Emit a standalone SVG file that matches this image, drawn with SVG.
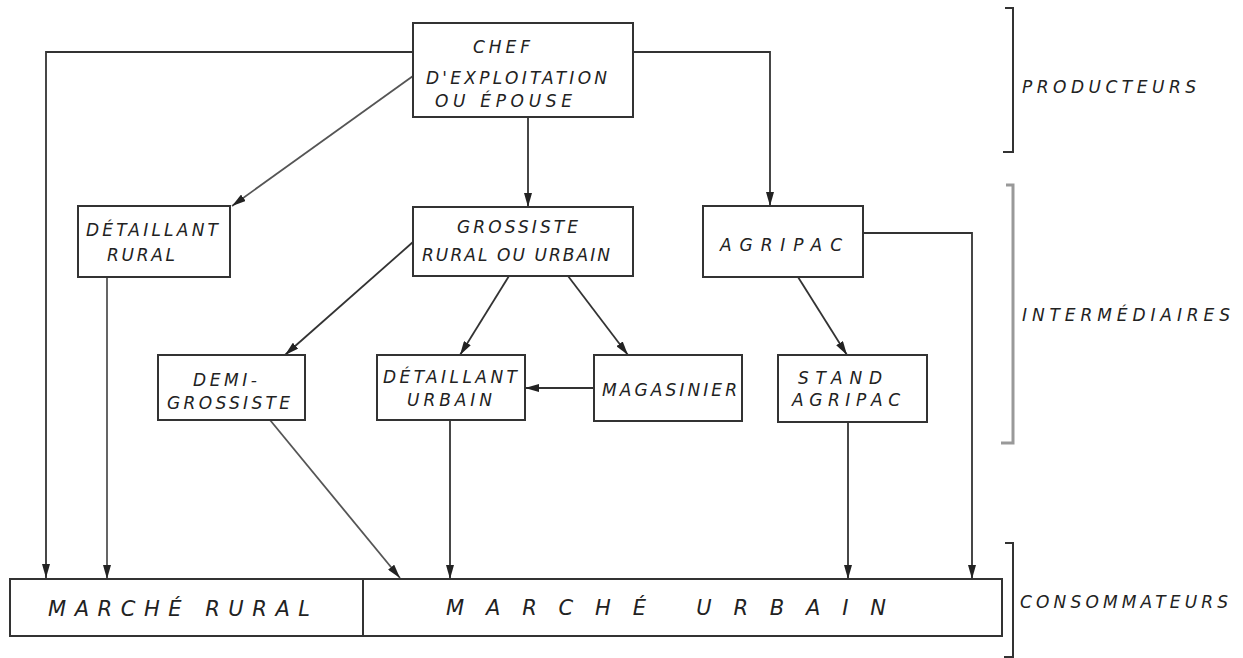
<svg xmlns="http://www.w3.org/2000/svg" width="1243" height="658" viewBox="0 0 1243 658">
<defs>
<marker id="ah" markerWidth="14" markerHeight="8" refX="14" refY="4" orient="auto" markerUnits="userSpaceOnUse"><path d="M0,0 L14,4 L0,8 z" fill="#222"/></marker>
<style>
.box{fill:#fff;stroke:#333;stroke-width:2}
.t{font-family:"DejaVu Sans","Liberation Sans",Arial,sans-serif;font-style:oblique;font-size:17px;fill:#222}
.big{font-size:21px}
.side{font-size:17px}
.c{fill:none;stroke:#333;stroke-width:1.8}
.cg{fill:none;stroke:#555;stroke-width:1.8}
.br{fill:none;stroke:#333;stroke-width:2}
.brg{fill:none;stroke:#999;stroke-width:3}
</style>
</defs>
<rect width="1243" height="658" fill="#fff"/>

<g id="connectors">
<path class="c" d="M413,52 H46 V578" marker-end="url(#ah)"/>
<path class="c" d="M633,52 H770 V206" marker-end="url(#ah)"/>
<path class="c" d="M528,117 V207" marker-end="url(#ah)"/>
<path class="cg" d="M413,76 L232,206" marker-end="url(#ah)"/>
<path class="c" d="M413,242 L285,355" marker-end="url(#ah)"/>
<path class="c" d="M509,276 L460,355" marker-end="url(#ah)"/>
<path class="c" d="M568,276 L628,355" marker-end="url(#ah)"/>
<path class="c" d="M594,388 H525" marker-end="url(#ah)"/>
<path class="c" d="M798,277 L847,355" marker-end="url(#ah)"/>
<path class="c" d="M863,233 H972 V579" marker-end="url(#ah)"/>
<path class="cg" d="M107,277 V579" marker-end="url(#ah)"/>
<path class="cg" d="M270,420 L400,578" marker-end="url(#ah)"/>
<path class="c" d="M450,420 V579" marker-end="url(#ah)"/>
<path class="c" d="M848,422 V579" marker-end="url(#ah)"/>
</g>

<g id="chef">
<rect class="box" x="413" y="23" width="220" height="94"/>
<text class="t" x="473" y="53" textLength="57" lengthAdjust="spacing">CHEF</text>
<text class="t" x="426" y="84" textLength="181" lengthAdjust="spacing">D'EXPLOITATION</text>
<text class="t" x="435" y="107" textLength="137" lengthAdjust="spacing">OU ÉPOUSE</text>
</g>

<g id="detaillant-rural">
<rect class="box" x="78" y="206" width="152" height="71"/>
<text class="t" x="86" y="236" textLength="132" lengthAdjust="spacing">DÉTAILLANT</text>
<text class="t" x="107" y="261" textLength="68" lengthAdjust="spacing">RURAL</text>
</g>

<g id="grossiste">
<rect class="box" x="413" y="207" width="220" height="69"/>
<text class="t" x="457" y="233" textLength="121" lengthAdjust="spacing">GROSSISTE</text>
<text class="t" x="422" y="261" textLength="188" lengthAdjust="spacing">RURAL OU URBAIN</text>
</g>

<g id="agripac">
<rect class="box" x="703" y="206" width="160" height="71"/>
<text class="t" x="720" y="251" textLength="122" lengthAdjust="spacing">AGRIPAC</text>
</g>

<g id="demi-grossiste">
<rect class="box" x="158" y="355" width="147" height="65"/>
<text class="t" x="193" y="386" textLength="64" lengthAdjust="spacing">DEMI-</text>
<text class="t" x="167" y="409" textLength="123" lengthAdjust="spacing">GROSSISTE</text>
</g>

<g id="detaillant-urbain">
<rect class="box" x="377" y="355" width="148" height="65"/>
<text class="t" x="383" y="383" textLength="134" lengthAdjust="spacing">DÉTAILLANT</text>
<text class="t" x="407" y="406" textLength="85" lengthAdjust="spacing">URBAIN</text>
</g>

<g id="magasinier">
<rect class="box" x="594" y="355" width="148" height="66"/>
<text class="t" x="602" y="396" textLength="135" lengthAdjust="spacing">MAGASINIER</text>
</g>

<g id="stand-agripac">
<rect class="box" x="778" y="355" width="149" height="67"/>
<text class="t" x="798" y="384" textLength="84" lengthAdjust="spacing">STAND</text>
<text class="t" x="792" y="406" textLength="108" lengthAdjust="spacing">AGRIPAC</text>
</g>

<g id="marche-rural">
<rect class="box" x="10" y="579" width="353" height="57"/>
<text class="t big" x="48" y="616" textLength="262" lengthAdjust="spacing">MARCHÉ RURAL</text>
</g>

<g id="marche-urbain">
<rect class="box" x="363" y="579" width="639" height="57"/>
<text class="t big" x="446" y="615" textLength="440" lengthAdjust="spacing">MARCHÉ URBAIN</text>
</g>

<g id="producteurs">
<path class="br" d="M1005,8 H1013 V152 H1003"/>
<text class="t side" x="1022" y="93" textLength="174" lengthAdjust="spacing">PRODUCTEURS</text>
</g>

<g id="intermediaires">
<path class="brg" d="M1006,185 H1013 V443 H1001"/>
<text class="t side" x="1022" y="321" textLength="208" lengthAdjust="spacing">INTERMÉDIAIRES</text>
</g>

<g id="consommateurs">
<path class="br" d="M1005,543 H1013 V657 H1004"/>
<text class="t side" x="1020" y="608" textLength="208" lengthAdjust="spacing">CONSOMMATEURS</text>
</g>
</svg>
